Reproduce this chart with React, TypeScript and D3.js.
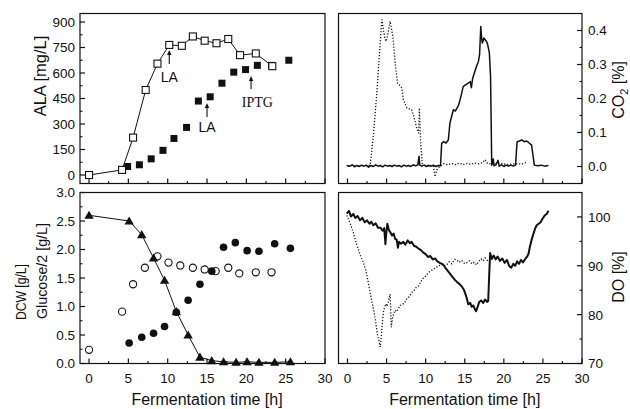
import React from 'react';
import * as d3 from 'd3';

// ---------- data ----------
const xMajor = [0, 5, 10, 15, 20, 25, 30];
const xMinor = [2.5, 7.5, 12.5, 17.5, 22.5, 27.5];

const alaTicks = [0, 150, 300, 450, 600, 750, 900];
const dcwTicks = [0, 0.5, 1.0, 1.5, 2.0, 2.5, 3.0];
const co2Ticks = [0, 0.1, 0.2, 0.3, 0.4];
const doTicks = [70, 80, 90, 100];

// ALA (open squares, connected)
const alaOpenT = [0, 4.2, 5.6, 7.2, 8.7, 10.2, 11.8, 13.2, 14.7, 16.2, 17.7, 19.2, 21.2, 23.3];
const alaOpenV = [0, 30, 220, 500, 655, 765, 760, 815, 790, 775, 800, 705, 715, 640];
// ALA (filled squares)
const alaFilledT = [4.9, 6.4, 7.9, 9.4, 10.8, 12.4, 13.9, 15.4, 16.9, 18.4, 19.9, 21.4, 23.2, 25.4];
const alaFilledV = [50, 60, 95, 145, 215, 280, 435, 460, 540, 605, 620, 645, 645, 675];

// Glucose/2 (triangles, connected)
const glucT = [0, 5.1, 6.7, 8.2, 9.6, 11.1, 12.6, 14.1, 15.6, 17.1, 18.7, 20.1, 21.6, 23.6, 25.6];
const glucV = [2.6, 2.5, 2.26, 1.85, 1.46, 0.91, 0.5, 0.11, 0.05, 0.03, 0.02, 0.03, 0.02, 0.02, 0.03];
// DCW (filled circles)
const dcwFT = [5.1, 6.7, 8.2, 9.6, 11.1, 12.6, 14.1, 15.6, 17.1, 18.6, 20.1, 21.6, 23.6, 25.6];
const dcwFV = [0.36, 0.46, 0.53, 0.65, 0.9, 1.11, 1.39, 1.62, 2.04, 2.12, 1.98, 1.97, 2.1, 2.02];
// DCW (open circles)
const dcwOT = [0, 4.2, 5.6, 7.1, 8.7, 10.1, 11.6, 13.2, 14.7, 16.1, 17.7, 19.1, 21.2, 23.2];
const dcwOV = [0.24, 0.91, 1.39, 1.68, 1.88, 1.77, 1.72, 1.68, 1.65, 1.62, 1.68, 1.58, 1.6, 1.6];

// CO2 solid trace [t, %]
const co2Solid: [number, number][] = [
  [-0.1, 0.003], [0.3, 0.001], [0.6, 0.005], [0.9, -0.001], [1.2, 0.003], [1.5, 0.0], [1.8, 0.004], [2.1, 0.001],
  [2.4, 0.004], [2.7, -0.002], [3.0, 0.003], [3.3, 0.0], [3.6, 0.005], [3.9, 0.001], [4.2, 0.003], [4.5, -0.001],
  [4.8, 0.004], [5.1, 0.001], [5.4, 0.003], [5.7, 0.0], [6.0, 0.004], [6.3, 0.001], [6.6, 0.003], [6.9, -0.001],
  [7.2, 0.004], [7.5, 0.001], [7.8, 0.003], [8.1, 0.0], [8.4, 0.005], [8.7, 0.002], [9.0, 0.004], [9.15, 0.03],
  [9.25, 0.004], [9.5, 0.001], [9.8, 0.004], [10.1, 0.0], [10.4, 0.003], [10.7, 0.001], [11.0, 0.004], [11.3, 0.0],
  [11.6, 0.003], [11.9, 0.002], [12.05, 0.068], [12.3, 0.073], [12.6, 0.069], [12.9, 0.078], [13.1, 0.127],
  [13.35, 0.15], [13.55, 0.167], [13.8, 0.163], [14.0, 0.172], [14.2, 0.18], [14.4, 0.196], [14.6, 0.215],
  [14.8, 0.235], [15.1, 0.24], [15.45, 0.245], [15.7, 0.25], [15.85, 0.232], [16.0, 0.258], [16.3, 0.28],
  [16.55, 0.298], [16.75, 0.309], [16.9, 0.33], [17.05, 0.412], [17.15, 0.38], [17.25, 0.363], [17.45, 0.378],
  [17.7, 0.37], [17.9, 0.362], [18.15, 0.334], [18.3, 0.265], [18.4, 0.1], [18.45, 0.004], [18.65, 0.022],
  [18.75, 0.002], [19.0, 0.005], [19.25, 0.018], [19.4, 0.001], [19.7, 0.005], [20.0, 0.0], [20.3, 0.004],
  [20.6, 0.001], [20.9, 0.004], [21.2, 0.001], [21.5, 0.004], [21.6, 0.04], [21.7, 0.073], [22.0, 0.075],
  [22.3, 0.078], [22.6, 0.073], [22.9, 0.075], [23.2, 0.07], [23.55, 0.063], [23.75, 0.03], [23.9, 0.004],
  [24.3, 0.002], [24.8, 0.004], [25.2, 0.001], [25.7, 0.003],
];
// CO2 dotted trace [t, %]
const co2Dotted: [number, number][] = [
  [0, 0.002], [1.0, 0.003], [2.0, 0.002], [2.9, 0.004], [3.3, 0.088], [3.75, 0.216], [4.1, 0.334], [4.4, 0.432],
  [4.6, 0.4], [4.8, 0.375], [4.95, 0.368], [5.15, 0.388], [5.45, 0.427], [5.8, 0.383], [6.1, 0.304], [6.4, 0.245],
  [6.7, 0.238], [6.95, 0.231], [7.15, 0.196], [7.6, 0.172], [8.2, 0.167], [8.5, 0.147], [8.8, 0.117], [9.1, 0.098],
  [9.2, 0.172], [9.37, 0.068], [9.55, 0.009], [10.0, 0.002], [10.5, 0.004], [11.0, 0.0], [11.2, -0.03],
  [11.4, -0.01], [11.8, 0.0], [12.3, 0.008], [12.8, 0.005], [13.3, 0.009], [13.8, 0.006], [14.3, 0.01],
  [14.8, 0.006], [15.3, 0.009], [15.8, 0.007], [16.3, 0.01], [16.8, 0.008], [17.3, 0.011], [17.6, 0.02],
  [17.9, 0.009], [18.5, 0.007], [19.5, 0.009], [20.5, 0.006], [21.5, 0.008], [22.3, 0.007], [22.9, 0.012],
];

// DO solid trace [t, %]
const doSolid: [number, number][] = [
  [-0.1, 100.7], [0.2, 101.2], [0.45, 100.1], [0.75, 100.6], [1.0, 99.8], [1.3, 100.2], [1.6, 99.3], [1.9, 99.8],
  [2.2, 98.9], [2.5, 99.3], [2.8, 98.6], [3.05, 99.0], [3.3, 98.3], [3.6, 98.7], [3.9, 97.8], [4.2, 97.8],
  [4.5, 97.2], [4.7, 97.7], [4.85, 94.4], [4.95, 96.5], [5.1, 98.6], [5.3, 97.3], [5.5, 96.8], [5.7, 96.2],
  [5.9, 96.6], [6.1, 95.5], [6.3, 95.3], [6.45, 93.7], [6.6, 94.9], [6.85, 94.5], [7.15, 94.9], [7.4, 94.3],
  [7.7, 95.2], [8.0, 94.6], [8.2, 94.9], [8.5, 94.1], [8.8, 93.9], [9.1, 93.5], [9.4, 93.2], [9.7, 92.7],
  [10.0, 92.4], [10.3, 91.8], [10.6, 92.0], [10.9, 91.3], [11.2, 91.5], [11.5, 90.9], [11.8, 90.6], [12.1, 90.4],
  [12.35, 90.0], [12.6, 89.4], [12.9, 88.8], [13.2, 88.2], [13.5, 87.6], [13.75, 87.1], [14.0, 86.7], [14.3, 86.3],
  [14.6, 85.8], [14.85, 85.2], [15.05, 84.4], [15.25, 83.4], [15.45, 82.1], [15.7, 82.4], [15.9, 81.6],
  [16.1, 81.9], [16.3, 81.1], [16.45, 80.7], [16.65, 81.6], [16.85, 82.6], [17.1, 82.9], [17.35, 82.4],
  [17.6, 83.1], [17.85, 82.6], [18.0, 82.8], [18.15, 89.0], [18.25, 92.6], [18.45, 91.4], [18.7, 92.1],
  [18.95, 91.3], [19.2, 91.9], [19.5, 91.0], [19.8, 91.5], [20.1, 90.6], [20.4, 91.2], [20.7, 89.9],
  [20.95, 89.6], [21.2, 90.4], [21.45, 90.0], [21.7, 90.9], [21.95, 90.4], [22.2, 91.2], [22.45, 90.7],
  [22.7, 91.3], [22.95, 91.8], [23.15, 92.4], [23.35, 94.0], [23.55, 95.3], [23.8, 96.6], [24.0, 97.6],
  [24.2, 98.3], [24.45, 98.6], [24.7, 98.9], [24.9, 99.5], [25.1, 100.0], [25.3, 100.4], [25.5, 100.6],
  [25.7, 101.3],
];
// DO dotted trace [t, %]
const doDotted: [number, number][] = [
  [-0.1, 100.3], [0.35, 98.6], [0.7, 97.0], [1.0, 95.3], [1.3, 93.8], [1.6, 92.3], [1.95, 91.0], [2.25, 89.6],
  [2.5, 88.0], [2.7, 86.2], [2.9, 84.5], [3.1, 82.8], [3.35, 81.0], [3.55, 79.1], [3.7, 77.4], [3.85, 75.8],
  [4.05, 74.5], [4.2, 73.4], [4.3, 75.0], [4.4, 77.1], [4.5, 79.0], [4.6, 80.5], [4.75, 81.5], [4.9, 82.2],
  [5.05, 81.7], [5.2, 82.5], [5.35, 83.5], [5.45, 84.2], [5.55, 80.0], [5.6, 77.4], [5.75, 79.2], [5.9, 80.1],
  [6.1, 80.9], [6.3, 80.6], [6.5, 81.2], [6.75, 81.9], [7.0, 82.0], [7.35, 82.5], [7.6, 83.3], [7.9, 83.7],
  [8.2, 84.5], [8.5, 84.9], [8.8, 85.6], [9.1, 85.9], [9.4, 86.8], [9.7, 87.5], [10.0, 87.9], [10.3, 88.5],
  [10.6, 88.9], [10.9, 89.2], [11.25, 89.6], [11.6, 89.9], [12.0, 90.3], [12.35, 90.0], [12.7, 90.2],
  [13.0, 90.8], [13.35, 90.4], [13.7, 91.3], [14.0, 91.2], [14.3, 90.7], [14.6, 91.1], [14.95, 90.5],
  [15.25, 90.6], [15.6, 91.0], [15.9, 90.4], [16.2, 90.7], [16.5, 90.2], [16.8, 90.9], [17.1, 91.4],
  [17.35, 91.0], [17.6, 91.6], [17.9, 91.1], [18.2, 90.9],
];

// ---------- drawing ----------
const SANS = 'Liberation Sans, Arial, Helvetica, sans-serif';
const SERIF = 'Liberation Serif, Times New Roman, serif';
const INK = '#111';

type Scale = d3.ScaleLinear<number, number>;

function Frame({ x, y, yMajor, yMinor, side, fmt, showXLabels }: {
  x: Scale; y: Scale; yMajor: number[]; yMinor: number[]; side: 'left' | 'right';
  fmt: (v: number) => string; showXLabels: boolean;
}) {
  const [x0, x1] = x.range();
  const [yb, yt] = y.range();
  const axX = side === 'left' ? x0 : x1;
  const dir = side === 'left' ? 1 : -1;
  return (
    <g>
      <rect x={x0} y={yt} width={x1 - x0} height={yb - yt} fill="none" stroke={INK} strokeWidth={1.2} />
      {xMajor.map((t) => (
        <line key={'xM' + t} x1={x(t)} x2={x(t)} y1={yb} y2={yb - 5} stroke={INK} strokeWidth={1.2} />
      ))}
      {xMinor.map((t) => (
        <line key={'xm' + t} x1={x(t)} x2={x(t)} y1={yb} y2={yb - 2.5} stroke={INK} strokeWidth={1.1} />
      ))}
      {yMajor.map((v) => (
        <line key={'yM' + v} x1={axX} x2={axX + dir * 5} y1={y(v)} y2={y(v)} stroke={INK} strokeWidth={1.2} />
      ))}
      {yMinor.map((v) => (
        <line key={'ym' + v} x1={axX} x2={axX + dir * 2.5} y1={y(v)} y2={y(v)} stroke={INK} strokeWidth={1.1} />
      ))}
      {yMajor.map((v) => (
        <text key={'yl' + v} x={side === 'left' ? x0 - 5 : x1 + 6} y={y(v)} dy="0.36em"
          textAnchor={side === 'left' ? 'end' : 'start'} fontSize={13.5} fontFamily={SANS} fill={INK}>
          {fmt(v)}
        </text>
      ))}
      {showXLabels && xMajor.map((t) => (
        <text key={'xl' + t} x={x(t)} y={383} textAnchor="middle" fontSize={13.5} fontFamily={SANS} fill={INK}>
          {t}
        </text>
      ))}
      {showXLabels && (
        <text x={(x(0) + x(30)) / 2} y={405} textAnchor="middle" fontSize={16} fontFamily={SANS} fill={INK}>
          Fermentation time [h]
        </text>
      )}
    </g>
  );
}

function Arrow({ x, yTip, yTail }: { x: number; yTip: number; yTail: number }) {
  return (
    <g>
      <line x1={x} x2={x} y1={yTip + 3} y2={yTail} stroke={INK} strokeWidth={1.1} />
      <path d={`M${x},${yTip} L${x - 2.2},${yTip + 5} L${x + 2.2},${yTip + 5} Z`} fill={INK} />
    </g>
  );
}

export default function App() {
  const xL = d3.scaleLinear().domain([-1.15, 30]).range([80, 325]);
  const xR = d3.scaleLinear().domain([-1.15, 30]).range([338.5, 582]);
  const yAla = d3.scaleLinear().domain([-50, 950]).range([183.5, 13.5]);
  const yDcw = d3.scaleLinear().domain([0, 3]).range([363.5, 192.5]);
  const yCo2 = d3.scaleLinear().domain([-0.05, 0.45]).range([183.5, 13.5]);
  const yDo = d3.scaleLinear().domain([70, 105]).range([363.5, 192.5]);

  const alaLine = d3.line<number>().x((_, i) => xL(alaOpenT[i])).y((v) => yAla(v));
  const glucLine = d3.line<number>().x((_, i) => xL(glucT[i])).y((v) => yDcw(v));
  const co2Line = d3.line<[number, number]>().x((d) => xR(d[0])).y((d) => yCo2(d[1]));
  const doLine = d3.line<[number, number]>().x((d) => xR(d[0])).y((d) => yDo(d[1]));
  const tri = d3.symbol().type(d3.symbolTriangle).size(38)();

  const sq = 7;

  return (
    <svg width={630} height={409} viewBox="0 0 630 409"
      style={{ position: 'absolute', left: 0, top: 0, background: '#fff' }}>
      <rect x={0} y={0} width={630} height={409} fill="#fff" />

      {/* Top-left: ALA */}
      <Frame x={xL} y={yAla} yMajor={alaTicks} yMinor={[75, 225, 375, 525, 675, 825]} side="left"
        fmt={(v) => String(v)} showXLabels={false} />
      <path d={alaLine(alaOpenV) || ''} fill="none" stroke={INK} strokeWidth={1} />
      {alaFilledT.map((t, i) => (
        <rect key={'af' + i} x={xL(t) - sq / 2} y={yAla(alaFilledV[i]) - sq / 2} width={sq} height={sq} fill={INK} />
      ))}
      {alaOpenT.map((t, i) => (
        <rect key={'ao' + i} x={xL(t) - sq / 2} y={yAla(alaOpenV[i]) - sq / 2} width={sq} height={sq}
          fill="#fff" stroke={INK} strokeWidth={1.1} />
      ))}
      <Arrow x={xL(10.2)} yTip={50} yTail={64} />
      <text x={xL(10.2)} y={82} textAnchor="middle" fontSize={14} fontFamily={SANS} fill={INK}>LA</text>
      <Arrow x={xL(15.0)} yTip={103} yTail={117} />
      <text x={xL(15.0)} y={132} textAnchor="middle" fontSize={14} fontFamily={SANS} fill={INK}>LA</text>
      <Arrow x={xL(20.6)} yTip={76} yTail={89} />
      <text x={xL(21.4)} y={107} textAnchor="middle" fontSize={14} fontFamily={SERIF} fill={INK}>IPTG</text>
      <text transform={`translate(46,76) rotate(-90)`} textAnchor="middle" fontSize={16.5} fontFamily={SANS} fill={INK}>
        ALA [mg/L]
      </text>

      {/* Bottom-left: DCW / Glucose */}
      <Frame x={xL} y={yDcw} yMajor={dcwTicks} yMinor={[0.25, 0.75, 1.25, 1.75, 2.25, 2.75]} side="left"
        fmt={(v) => v.toFixed(1)} showXLabels={true} />
      <path d={glucLine(glucV) || ''} fill="none" stroke={INK} strokeWidth={1} />
      {dcwOT.map((t, i) => (
        <circle key={'do' + i} cx={xL(t)} cy={yDcw(dcwOV[i])} r={3.6} fill="#fff" stroke={INK} strokeWidth={1.1} />
      ))}
      {dcwFT.map((t, i) => (
        <circle key={'df' + i} cx={xL(t)} cy={yDcw(dcwFV[i])} r={3.8} fill={INK} />
      ))}
      {glucT.map((t, i) => (
        <path key={'g' + i} d={tri || ''} transform={`translate(${xL(t)},${yDcw(glucV[i]) + 0.8})`} fill={INK} />
      ))}
      <text transform={`translate(26,292) rotate(-90)`} textAnchor="middle" fontSize={15} fontFamily={SANS} fill={INK}
        textLength={56} lengthAdjust="spacingAndGlyphs">
        DCW [g/L]
      </text>
      <text transform={`translate(47,271) rotate(-90)`} textAnchor="middle" fontSize={15} fontFamily={SANS} fill={INK}
        textLength={96} lengthAdjust="spacingAndGlyphs">
        Glucose/2 [g/L]
      </text>

      {/* Top-right: CO2 */}
      <Frame x={xR} y={yCo2} yMajor={co2Ticks} yMinor={[0.05, 0.15, 0.25, 0.35]} side="right"
        fmt={(v) => v.toFixed(1)} showXLabels={false} />
      <path d={co2Line(co2Dotted) || ''} fill="none" stroke={INK} strokeWidth={1.3} strokeDasharray="1.2 1.8" />
      <path d={co2Line(co2Solid) || ''} fill="none" stroke={INK} strokeWidth={1.5} strokeLinejoin="round" />
      <text transform={`translate(624,90) rotate(-90)`} textAnchor="middle" fontSize={16} fontFamily={SANS} fill={INK}>
        CO<tspan fontSize={11} dy="4">2</tspan><tspan dy="-4"> [%]</tspan>
      </text>

      {/* Bottom-right: DO */}
      <Frame x={xR} y={yDo} yMajor={doTicks} yMinor={[75, 85, 95]} side="right"
        fmt={(v) => String(v)} showXLabels={true} />
      <path d={doLine(doDotted) || ''} fill="none" stroke={INK} strokeWidth={1.3} strokeDasharray="1.2 1.8" />
      <path d={doLine(doSolid) || ''} fill="none" stroke={INK} strokeWidth={2} strokeLinejoin="round" />
      <text transform={`translate(624,277) rotate(-90)`} textAnchor="middle" fontSize={16} fontFamily={SANS} fill={INK}>
        DO [%]
      </text>
    </svg>
  );
}
